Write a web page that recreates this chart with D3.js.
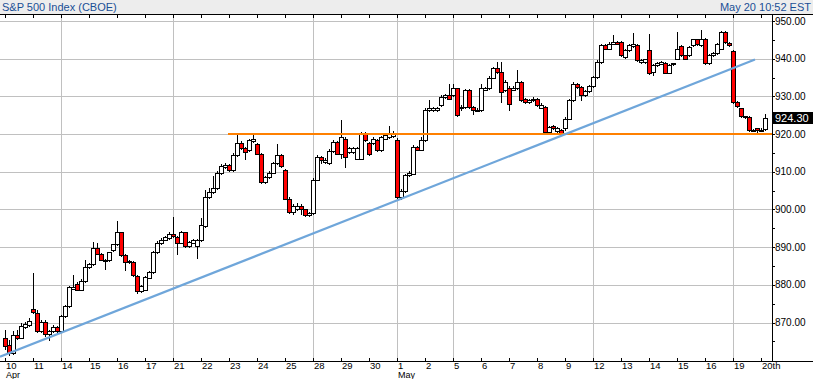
<!DOCTYPE html>
<html><head><meta charset="utf-8">
<script src="https://cdn.jsdelivr.net/npm/d3@7"></script>
<style>body{margin:0;background:#fff}svg{display:block}text{font-family:"Liberation Sans",Arial,sans-serif}</style>
</head><body><svg id="c" width="813" height="379"></svg>
<script>
// ---- data (hourly candles, Apr 10 .. May 20) ----
const opens=[865.8,864.0,861.8,866.6,866.0,868.8,869.3,873.7,872.6,867.7,870.2,866.9,867.7,868.8,867.7,871.7,874.3,879.0,880.3,878.7,881.0,884.7,885.4,889.9,888.3,886.5,886.5,889.2,890.7,893.9,888.0,886.1,886.1,882.4,878.4,878.7,881.9,883.4,888.6,891.2,892.0,892.3,893.6,892.7,891.2,893.9,890.2,891.2,890.3,891.8,895.5,903.2,904.6,905.6,909.6,911.3,911.7,910.4,914.4,917.6,916.2,915.7,918.2,917.3,914.8,907.3,908.6,909.8,912.2,914.4,910.4,902.9,899.3,900.1,900.9,900.0,898.5,899.1,907.9,913.8,912.7,912.3,915.5,917.9,914.8,918.8,915.3,915.3,913.5,913.5,920.1,917.5,917.5,918.4,915.7,918.8,919.2,919.4,918.4,903.3,904.9,909.1,909.5,916.6,915.9,918.4,926.3,926.5,926.3,927.6,929.8,930.3,930.3,932.1,926.8,927.2,931.6,927.2,926.3,926.3,931.8,932.1,935.0,937.4,936.5,931.6,932.3,931.8,932.1,933.8,929.4,928.5,929.0,929.4,927.0,927.2,920.6,922.1,920.7,921.0,921.5,924.1,929.0,933.4,932.5,930.3,931.4,932.7,935.2,939.1,943.6,942.7,944.0,944.4,944.4,940.5,942.2,943.3,943.6,939.1,939.1,942.4,936.5,938.3,938.7,938.9,936.3,938.7,940.0,943.3,940.9,940.9,943.6,945.1,943.6,945.3,938.9,940.9,941.5,942.7,947.1,944.2,942.0,928.5,926.8,924.5,924.5,921.0,921.5,921.0,921.3];
const highs=[868.1,865.3,867.8,868.0,869.9,870.1,871.1,883.2,873.3,870.6,870.6,868.0,869.3,869.1,872.1,874.7,879.8,882.5,880.7,881.5,886.5,885.7,891.4,891.0,888.5,886.9,888.8,890.9,896.9,894.1,888.2,886.5,886.3,882.5,879.9,882.3,883.7,888.9,891.6,892.4,893.0,894.0,898.0,892.9,894.2,894.1,891.6,892.1,892.1,897.7,905.1,905.6,908.8,910.1,912.0,912.3,912.0,914.9,919.7,918.1,916.5,918.6,919.7,917.6,915.0,908.9,910.1,912.5,917.3,914.6,910.8,903.2,901.4,901.6,901.4,900.2,899.3,908.3,914.4,914.1,913.6,916.0,918.4,918.2,923.7,919.2,916.5,916.5,916.5,920.5,920.6,917.8,919.2,918.6,919.6,920.2,922.1,920.7,918.9,905.4,909.3,910.1,917.0,916.9,919.2,926.8,929.0,927.1,927.1,930.3,930.6,933.4,933.4,932.3,927.6,931.9,931.9,927.4,926.8,933.4,932.4,935.3,937.8,939.1,939.1,934.3,932.7,932.7,936.9,934.1,929.6,929.2,929.8,929.6,928.2,927.5,922.1,922.3,921.8,921.3,924.5,929.2,933.7,933.6,932.7,931.6,933.0,935.5,939.6,943.8,943.8,944.4,946.2,944.8,944.6,942.5,943.8,946.7,943.8,939.8,940.0,946.5,938.5,939.1,939.3,939.1,938.5,938.9,947.1,943.6,941.0,943.4,945.3,945.3,947.7,945.6,941.2,941.7,944.2,947.3,947.3,944.4,942.2,928.7,927.0,924.9,924.7,921.4,921.7,921.5,925.3];
const lows=[863.1,861.5,861.6,865.6,865.8,868.6,869.0,872.5,867.4,867.4,866.5,865.3,867.4,867.4,867.4,871.4,874.1,878.8,878.6,878.6,880.8,884.5,885.2,888.1,886.5,884.3,886.3,888.9,890.5,887.6,883.9,885.9,882.3,877.7,878.2,878.6,881.7,883.2,888.4,890.9,891.8,892.1,892.6,888.3,891.0,890.0,890.0,891.0,887.0,891.6,895.3,903.0,904.3,905.4,909.3,910.9,910.1,910.1,914.1,916.0,913.3,915.4,918.0,914.6,907.0,907.0,908.4,909.6,912.0,911.3,902.7,899.1,898.7,899.8,898.7,898.2,898.2,898.9,907.8,912.3,912.4,912.1,915.3,914.6,913.6,911.3,914.9,915.0,913.3,913.3,918.1,914.5,917.3,915.4,915.4,918.6,919.0,919.2,903.0,902.7,904.7,908.8,909.3,915.7,915.7,918.1,926.0,926.2,926.0,927.4,929.6,929.2,930.0,924.7,926.5,927.0,927.0,925.3,926.0,926.0,931.6,931.9,934.8,936.3,928.5,931.4,926.5,931.6,931.9,928.7,928.2,928.3,928.7,927.4,926.8,920.3,920.4,921.3,920.5,920.0,921.0,923.9,928.7,932.3,929.0,930.0,931.2,932.4,934.9,938.9,942.5,942.5,943.8,943.8,940.6,940.2,942.0,943.0,939.3,938.9,938.9,935.9,935.6,938.0,938.5,936.1,936.1,938.4,939.8,940.6,939.8,940.6,943.3,943.6,943.3,938.7,938.7,940.6,941.3,942.5,944.2,943.3,928.3,927.1,924.5,924.3,920.7,920.7,920.6,920.7,921.0];
const closes=[863.8,861.8,866.6,866.0,869.0,869.5,870.4,872.8,867.7,870.2,866.9,867.7,868.8,867.7,871.7,874.3,879.3,879.4,878.7,881.0,884.7,885.4,889.9,888.3,886.7,886.7,888.6,890.7,894.0,887.9,886.1,886.3,882.5,878.3,879.6,882.1,883.4,888.6,891.2,892.0,892.7,893.6,892.9,891.2,893.9,890.2,891.4,891.8,891.8,895.8,903.3,904.6,905.6,909.6,911.5,911.7,910.4,914.4,917.6,916.2,915.3,918.4,918.8,914.8,907.3,908.6,909.8,912.2,914.4,911.5,902.9,899.3,900.9,900.9,900.0,898.5,899.0,907.9,913.9,913.1,913.2,915.5,917.9,914.8,919.2,913.9,916.2,916.2,916.2,920.1,918.4,914.8,918.8,915.7,919.2,919.7,920.1,920.3,903.3,904.9,909.1,909.7,916.6,915.9,918.4,926.3,926.8,926.8,926.8,929.8,930.3,929.4,932.1,925.0,927.3,931.6,927.2,926.3,926.5,932.1,932.1,935.0,937.4,936.5,931.2,933.8,928.1,932.3,933.8,929.0,928.5,929.0,929.4,927.6,927.6,920.6,921.9,921.5,921.5,920.1,924.1,929.0,933.4,932.5,930.3,931.4,932.7,935.2,939.1,943.6,942.7,944.0,944.4,944.0,940.9,942.2,943.6,944.0,939.6,939.6,939.8,936.1,938.3,938.9,939.1,936.3,938.3,938.8,942.7,940.9,940.0,943.1,945.1,943.8,945.3,938.9,940.9,941.5,944.0,947.1,944.4,943.6,928.5,927.4,924.7,924.7,921.0,921.1,921.0,921.2,924.3];

const dayLabels=["10","11","14","15","16","17","21","22","23","24","25","28","29","30","1","2","5","6","7","8","9","12","13","14","15","16","19","20th"];
const monthLabels=[["Apr",0],["May",14]];
const gridDays=[2,6,11,14,16,21,26];
const priceTicks=[870,880,890,900,910,920,930,940,950];
const minorTicks=[865,875,885,895,905,915,925,935,945];
const barsPerDay=7;
const lastPrice=924.30;
const supportLine={from:55.75,price:920};
const trendLine=[[-1.25,860.9],[187.5,939.8]];
const titleText="S&P 500 Index (CBOE)";
const stampText="May 20 10:52 EST";

// ---- layout ----
const W=813,H=379,plotL=0,plotR=772,plotT=14,plotB=361;
const x=d3.scaleLinear().domain([0,barsPerDay]).range([5,33]);
const y=d3.scaleLinear().domain([870,950]).range([322.5,21]);
const svg=d3.select("#c");
const R=v=>Math.round(v)+0.5;

svg.append("rect").attr("width",W).attr("height",H).attr("fill","#fff");
// header
svg.append("rect").attr("x",0).attr("y",0).attr("width",W).attr("height",plotT).attr("fill","#ededed");
svg.append("text").attr("x",2).attr("y",10.5).attr("font-size",11).attr("fill","#1a4f96").text(titleText);
svg.append("text").attr("x",811).attr("y",10.5).attr("font-size",11).attr("fill","#1a4f96").attr("text-anchor","end").text(stampText);

// grid
const g=svg.append("g");
g.selectAll(".hg").data(priceTicks).join("line")
  .attr("x1",plotL).attr("x2",plotR).attr("y1",d=>R(y(d))).attr("y2",d=>R(y(d)))
  .attr("stroke","#c0c0c0").attr("stroke-width",1);
g.selectAll(".vg").data(gridDays).join("line")
  .attr("x1",d=>R(x(d*barsPerDay))).attr("x2",d=>R(x(d*barsPerDay))).attr("y1",plotT).attr("y2",plotB)
  .attr("stroke","#c0c0c0").attr("stroke-width",1);

// candles
const data=opens.map((o,i)=>({i,o,h:highs[i],l:lows[i],c:closes[i]}));
const cg=svg.append("g");
cg.selectAll(".w").data(data).join("line")
  .attr("x1",d=>Math.round(x(d.i))+0.5).attr("x2",d=>Math.round(x(d.i))+0.5)
  .attr("y1",d=>Math.round(y(d.h))).attr("y2",d=>Math.round(y(d.l))+1)
  .attr("stroke","#000").attr("stroke-width",1);
cg.selectAll(".b").data(data).join("rect")
  .attr("x",d=>Math.round(x(d.i))-1.5).attr("width",4)
  .attr("y",d=>Math.round(y(Math.max(d.o,d.c)))+0.5)
  .attr("height",d=>Math.max(1,Math.round(y(Math.min(d.o,d.c)))-Math.round(y(Math.max(d.o,d.c)))))
  .attr("fill",d=>d.c<d.o?"#ff0000":"#ffffff").attr("stroke","#000").attr("stroke-width",1);

// lines
const sy=Math.round(y(supportLine.price));
svg.append("line").attr("x1",Math.round(x(supportLine.from))).attr("x2",plotR).attr("y1",sy).attr("y2",sy)
  .attr("stroke","#ff8000").attr("stroke-width",2);
svg.append("line").attr("x1",x(trendLine[0][0])).attr("y1",y(trendLine[0][1])).attr("x2",x(trendLine[1][0])).attr("y2",y(trendLine[1][1]))
  .attr("stroke","#6fa6da").attr("stroke-width",2.2);

// axes lines
svg.append("line").attr("x1",0).attr("x2",W).attr("y1",plotT+0.5).attr("y2",plotT+0.5).attr("stroke","#000");
svg.append("line").attr("x1",0).attr("x2",W).attr("y1",plotB+0.5).attr("y2",plotB+0.5).attr("stroke","#000");
svg.append("line").attr("x1",plotR+0.5).attr("x2",plotR+0.5).attr("y1",plotT).attr("y2",plotB+1).attr("stroke","#000");

// day ticks + labels
const days=d3.range(dayLabels.length);
svg.selectAll(".tt").data(days).join("line")
  .attr("x1",d=>R(x(d*barsPerDay))).attr("x2",d=>R(x(d*barsPerDay))).attr("y1",plotT+1).attr("y2",plotT+4).attr("stroke","#000");
svg.selectAll(".bt").data(days).join("line")
  .attr("x1",d=>R(x(d*barsPerDay))).attr("x2",d=>R(x(d*barsPerDay))).attr("y1",plotB-3).attr("y2",plotB+1).attr("stroke","#000");
svg.selectAll(".dl").data(days).join("text")
  .attr("x",d=>Math.round(x(d*barsPerDay))+1).attr("y",369).attr("font-size",9.5).attr("fill","#000").text(d=>dayLabels[d]);
svg.selectAll(".ml").data(monthLabels).join("text")
  .attr("x",d=>Math.round(x(d[1]*barsPerDay))+1).attr("y",377.5).attr("font-size",9).attr("fill","#000").text(d=>d[0]);

// price axis
svg.selectAll(".pt").data(priceTicks.concat(minorTicks)).join("line")
  .attr("x1",plotR).attr("x2",plotR+3).attr("y1",d=>R(y(d))).attr("y2",d=>R(y(d))).attr("stroke","#000");
svg.selectAll(".pl").data(priceTicks).join("text")
  .attr("x",plotR+3).attr("y",d=>y(d)).attr("dy","0.35em").attr("font-size",10).attr("fill","#000").text(d=>d.toFixed(2));
// last price box
svg.append("rect").attr("x",plotR+1).attr("y",Math.round(y(lastPrice))-6).attr("width",W-plotR-1).attr("height",12).attr("fill","#000");
svg.append("text").attr("x",plotR+3).attr("y",y(lastPrice)).attr("dy","0.36em").attr("font-size",11).attr("fill","#fff").text(lastPrice.toFixed(2));
</script></body></html>
